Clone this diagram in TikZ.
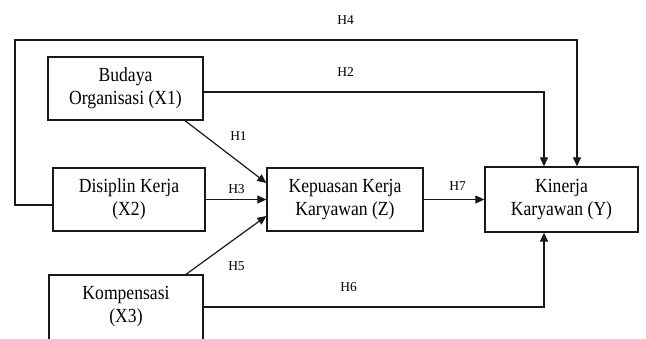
\documentclass[tikz,border=0pt]{standalone}
\usepackage{fontspec}
\setmainfont{Liberation Serif}
\newfontfamily\boxfont{Liberation Serif}[FakeStretch=0.88]
\usetikzlibrary{arrows.meta}
\tikzset{
  x=1pt, y=1pt,
  frame/.style={draw=black!90, line width=1.3pt},
  var/.style={frame, minimum height=63pt,
    align=center, inner sep=0pt,
    font=\boxfont\fontsize{20}{23}\selectfont},
  link/.style={draw=black!90, line width=1.2pt,
    -{Triangle[length=9pt,width=8pt]}},
  hyp/.style={inner sep=0pt, font=\fontsize{13.5}{14}\selectfont}
}
\begin{document}
\begin{tikzpicture}
\useasboundingbox (0,0) rectangle (646,338);
\begin{scope}
\clip (0,0) rectangle (646,338);
% variables
\node[var, minimum width=155pt] (X1) at (125.5,249.5) {Budaya\\Organisasi (X1)};
\node[var, minimum width=152pt] (X2) at (129,138.5) {Disiplin Kerja\\(X2)};
% the lower box runs past the bottom edge
\node[var, minimum width=154pt, minimum height=70pt, text depth=10.3pt] (X3) at (126,28) {Kompensasi\\(X3)};
\node[var, minimum width=156pt] (Z) at (345,138.5) {Kepuasan Kerja\\Karyawan (Z)};
\node[var, minimum width=153pt, minimum height=65pt] (Y) at (561.5,138.5) {Kinerja\\Karyawan (Y)};

% hypothesised paths
\draw[link] ([yshift=-5.5pt]X2.west) -| (15,298) -| ([xshift=15.5pt]Y.north);
\draw[link] ([yshift=-3.5pt]X1.east) -| ([xshift=-17.5pt]Y.north);
\draw[link] ([xshift=59.5pt]X1.south) -- ([yshift=16.5pt]Z.west);
\draw[link] (X2.east) -- (Z.west);
\draw[link] ([xshift=60pt]X3.north) -- ([yshift=-16.5pt]Z.west);
\draw[link] (Z.east) -- (Y.west);
\draw[link] ([yshift=3pt]X3.east) -| ([xshift=-17.5pt]Y.south);

% labels
\node[hyp] (h4) at (345.5,318) {H4};
\node[hyp] (h2) at (345.5,265.5) {H2};
\node[hyp] (h1) at (238.5,202) {H1};
\node[hyp] (h3) at (236.5,148.5) {H3};
\node[hyp] (h5) at (236.5,71.5) {H5};
\node[hyp] (h7) at (457.5,152) {H7};
\node[hyp] (h6) at (348.5,50.5) {H6};
\end{scope}
\end{tikzpicture}
\end{document}
